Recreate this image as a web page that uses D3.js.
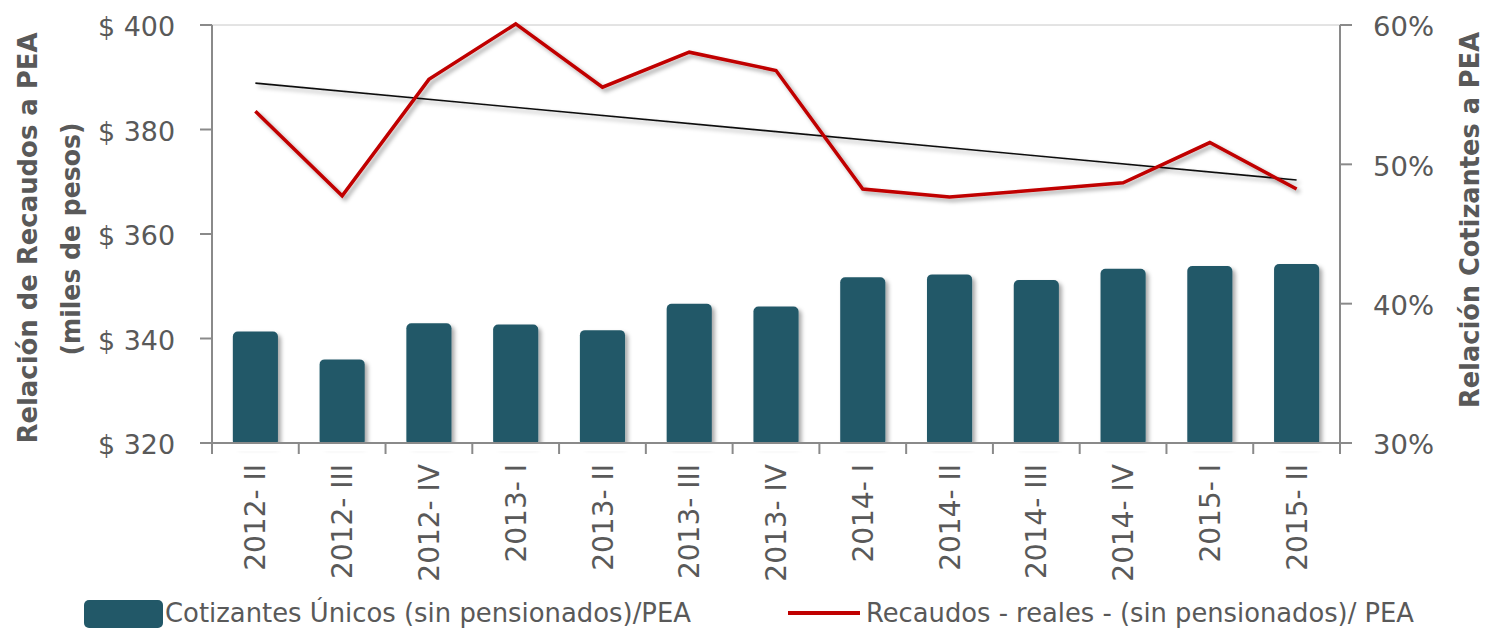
<!DOCTYPE html>
<html><head><meta charset="utf-8">
<script src="https://cdn.jsdelivr.net/npm/d3@7"></script>
<style>
html,body{margin:0;padding:0;background:#fff;}
svg text{font-family:"DejaVu Sans",sans-serif;}
</style></head>
<body>
<svg id="chart" width="1492" height="632"></svg>
<script>
const categories = ["2012- II","2012- III","2012- IV","2013- I","2013- II","2013- III","2013- IV","2014- I","2014- II","2014- III","2014- IV","2015- I","2015- II"];
const cotizantesPEA = [0.380, 0.360, 0.386, 0.385, 0.381, 0.400, 0.398, 0.419, 0.421, 0.417, 0.425, 0.427, 0.4285];
const recaudosPEA = [383.5, 367.3, 389.6, 400.2, 388.1, 394.8, 391.3, 368.6, 367.1, 368.4, 369.8, 377.5, 368.6];
const leftTicks = [320, 340, 360, 380, 400];
const rightTicks = [0.30, 0.40, 0.50, 0.60];
const seriesNames = ["Cotizantes Únicos (sin pensionados)/PEA", "Recaudos - reales - (sin pensionados)/ PEA"];
const axisTitles = ["Relación de Recaudos a PEA", "(miles de pesos)", "Relación  Cotizantes a PEA"];

const svg = d3.select("#chart");
const L = 212, R = 1340, T = 25, B = 443;
const axisColor = "#8a8a8a", textColor = "#595959";
const barColor = "#225868", lineColor = "#c00000";

const defs = svg.append("defs");
const f = defs.append("filter").attr("id","shadow").attr("x","-20%").attr("y","-20%").attr("width","140%").attr("height","140%");
f.append("feDropShadow").attr("dx",3).attr("dy",3).attr("stdDeviation",2).attr("flood-color","#000").attr("flood-opacity",0.35);

const x = d3.scaleBand().domain(categories).range([L, R]).paddingInner(0.48).paddingOuter(0.24);
const yL = d3.scaleLinear().domain([320, 400]).range([B, T]);
const yR = d3.scaleLinear().domain([0.30, 0.60]).range([B, T]);
const cx = d => x(d) + x.bandwidth()/2;

// top border
svg.append("line").attr("x1",L).attr("x2",R).attr("y1",T).attr("y2",T).attr("stroke","#c8c8c8").attr("stroke-width",1);

// bars
svg.append("g").selectAll("rect").data(categories).join("rect")
  .attr("x", d => x(d)).attr("width", x.bandwidth())
  .attr("y", (d,i) => yR(cotizantesPEA[i]))
  .attr("height", (d,i) => B - yR(cotizantesPEA[i]) + 3)
  .attr("rx", 5).attr("fill", barColor).attr("filter","url(#shadow)");
// cover rounded bottom
svg.append("rect").attr("x",L+1).attr("y",B+0.5).attr("width",R-L-2).attr("height",8).attr("fill","#fff");

// trend line (least squares of recaudos)
const n = recaudosPEA.length;
const mx = d3.mean(d3.range(n)), my = d3.mean(recaudosPEA);
const slope = d3.sum(d3.range(n), i => (i-mx)*(recaudosPEA[i]-my)) / d3.sum(d3.range(n), i => (i-mx)*(i-mx));
const trend = i => my + slope*(i-mx);
svg.append("line")
  .attr("x1", cx(categories[0])).attr("y1", yL(trend(0)))
  .attr("x2", cx(categories[n-1])).attr("y2", yL(trend(n-1)))
  .attr("stroke","#111").attr("stroke-width",1.6).attr("filter","url(#shadow)");

// red line
const line = d3.line().x((d,i) => cx(categories[i])).y(d => yL(d));
svg.append("path").datum(recaudosPEA).attr("d", line)
  .attr("fill","none").attr("stroke",lineColor).attr("stroke-width",3.5)
  .attr("stroke-linejoin","miter").attr("filter","url(#shadow)");

// left axis
const gL = svg.append("g");
gL.append("line").attr("x1",L).attr("x2",L).attr("y1",T).attr("y2",B).attr("stroke",axisColor).attr("stroke-width",2);
gL.selectAll("line.t").data(leftTicks).join("line").attr("class","t")
  .attr("x1",L-12).attr("x2",L).attr("y1",d=>yL(d)).attr("y2",d=>yL(d)).attr("stroke",axisColor).attr("stroke-width",2);
gL.selectAll("text").data(leftTicks).join("text")
  .attr("x",175).attr("y",d=>yL(d)).attr("dy","0.42em").attr("text-anchor","end")
  .attr("font-size",27).attr("fill",textColor)
  .attr("textLength",77).attr("lengthAdjust","spacingAndGlyphs")
  .text(d => "$ " + d);

// right axis
const gR = svg.append("g");
gR.append("line").attr("x1",R).attr("x2",R).attr("y1",T).attr("y2",B).attr("stroke",axisColor).attr("stroke-width",2);
gR.selectAll("line.t").data(rightTicks).join("line").attr("class","t")
  .attr("x1",R).attr("x2",R+12).attr("y1",d=>yR(d)).attr("y2",d=>yR(d)).attr("stroke",axisColor).attr("stroke-width",2);
gR.selectAll("text").data(rightTicks).join("text")
  .attr("x",1373).attr("y",d=>yR(d)).attr("dy","0.42em").attr("text-anchor","start")
  .attr("font-size",27).attr("fill",textColor)
  .attr("textLength",61).attr("lengthAdjust","spacingAndGlyphs")
  .text(d => d3.format(".0%")(d));

// bottom axis
const gB = svg.append("g");
gB.append("line").attr("x1",L-12).attr("x2",R+12).attr("y1",B).attr("y2",B).attr("stroke",axisColor).attr("stroke-width",2);
const step = x.step();
gB.selectAll("line.t").data(d3.range(categories.length+1)).join("line").attr("class","t")
  .attr("x1",i => L + i*step).attr("x2",i => L + i*step).attr("y1",B).attr("y2",B+11)
  .attr("stroke",axisColor).attr("stroke-width",2);
gB.selectAll("text").data(categories).join("text")
  .attr("transform", d => `translate(${cx(d)},464) rotate(-90)`)
  .attr("text-anchor","end").attr("dy","0.36em")
  .attr("font-size",28).attr("fill",textColor)
  .text(d => d);

// axis titles
svg.append("text").attr("transform","translate(37,238) rotate(-90)")
  .attr("text-anchor","middle").attr("font-size",27).attr("font-weight","bold").attr("fill",textColor)
  .attr("textLength",411).attr("lengthAdjust","spacingAndGlyphs").text(axisTitles[0]);
svg.append("text").attr("transform","translate(80,239) rotate(-90)")
  .attr("text-anchor","middle").attr("font-size",27).attr("font-weight","bold").attr("fill",textColor)
  .attr("textLength",233).attr("lengthAdjust","spacingAndGlyphs").text(axisTitles[1]);
svg.append("text").attr("transform","translate(1479,220) rotate(-90)")
  .attr("text-anchor","middle").attr("font-size",27).attr("font-weight","bold").attr("fill",textColor)
  .attr("textLength",376).attr("lengthAdjust","spacingAndGlyphs").text(axisTitles[2]);

// legend
const lg = svg.append("g");
lg.append("rect").attr("x",84).attr("y",600).attr("width",79).attr("height",28).attr("rx",5).attr("fill",barColor);
lg.append("text").attr("x",165).attr("y",622).attr("font-size",27).attr("fill",textColor)
  .attr("textLength",526).attr("lengthAdjust","spacingAndGlyphs").text(seriesNames[0]);
lg.append("line").attr("x1",788).attr("x2",860).attr("y1",613).attr("y2",613).attr("stroke",lineColor).attr("stroke-width",4);
lg.append("text").attr("x",866).attr("y",622).attr("font-size",27).attr("fill",textColor)
  .attr("textLength",548).attr("lengthAdjust","spacingAndGlyphs").text(seriesNames[1]);
</script>
</body></html>
